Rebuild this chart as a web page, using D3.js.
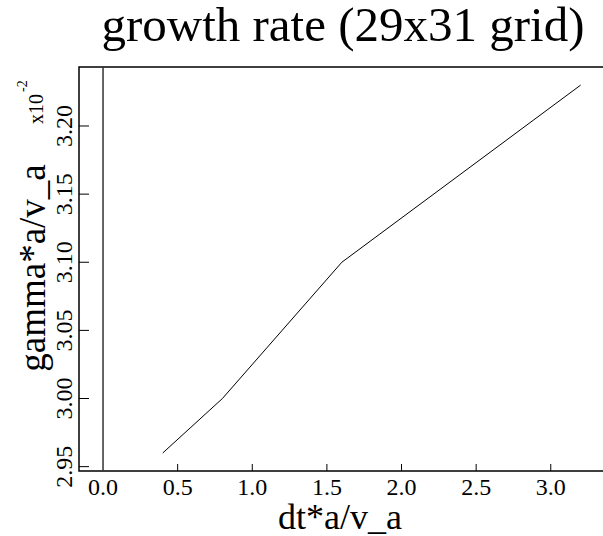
<!DOCTYPE html>
<html>
<head>
<meta charset="utf-8">
<script src="https://cdn.jsdelivr.net/npm/d3@7"></script>
<style>
  body { margin: 0; background: #fff; }
  text { font-family: "Liberation Serif", "DejaVu Serif", serif; fill: #000; }
</style>
</head>
<body>
<div id="chart"></div>
<script>
// data
const dt = [0.4, 0.8, 1.6, 3.2]
const gamma = [2.96, 3.00, 3.10, 3.23]   // in units of 1e-2
const xTicks = [0.0, 0.5, 1.0, 1.5, 2.0, 2.5, 3.0]
const yTicks = [2.95, 3.00, 3.05, 3.10, 3.15, 3.20]

const W = 603, H = 536
const plotL = 79, plotT = 67, plotR = 603, plotB = 471

const svg = d3.select('#chart').append('svg')
  .attr('width', W)
  .attr('height', H)

const x = d3.scaleLinear().domain([-0.161, 3.35]).range([plotL, plotR])
const y = d3.scaleLinear().domain([2.9468, 3.2433]).range([plotB, plotT])

// frame: left, top, bottom (no right side)
svg.append('path')
  .attr('d', `M ${plotR} ${plotT} L ${plotL} ${plotT} L ${plotL} ${plotB} L ${plotR} ${plotB}`)
  .style('fill', 'none')
  .style('stroke', '#000')
  .style('stroke-width', 1.5)

// zero line
svg.append('line')
  .attr('x1', x(0)).attr('x2', x(0))
  .attr('y1', plotT).attr('y2', plotB)
  .style('stroke', '#333')
  .style('stroke-width', 1.5)

// x ticks (pointing inward)
const xAxis = svg.append('g')
xAxis.selectAll('line').data(xTicks.filter(d => d !== 0)).join('line')
  .attr('x1', d => x(d)).attr('x2', d => x(d))
  .attr('y1', plotB).attr('y2', plotB - 7)
  .style('stroke', '#000')
  .style('stroke-width', 1)
xAxis.selectAll('text').data(xTicks).join('text')
  .attr('x', d => x(d))
  .attr('y', 495)
  .attr('text-anchor', 'middle')
  .style('font-size', '24px')
  .text(d => d3.format('.1f')(d))

// y ticks (pointing inward), labels rotated
const yAxis = svg.append('g')
yAxis.selectAll('line').data(yTicks).join('line')
  .attr('x1', plotL).attr('x2', plotL + 10)
  .attr('y1', d => y(d)).attr('y2', d => y(d))
  .style('stroke', '#000')
  .style('stroke-width', 1)
yAxis.selectAll('text').data(yTicks).join('text')
  .attr('transform', d => `translate(72, ${y(d)}) rotate(-90)`)
  .attr('text-anchor', 'middle')
  .style('font-size', '24px')
  .text(d => d3.format('.2f')(d))

// exponent marker
const expo = svg.append('text')
  .attr('transform', 'translate(43, 124) rotate(-90)')
  .attr('text-anchor', 'start')
  .style('font-size', '20px')
expo.append('tspan').text('x10')
expo.append('tspan')
  .attr('dx', 2)
  .attr('dy', -16)
  .style('font-size', '14px')
  .text('-2')

// series line
const line = d3.line()
  .x(d => x(d[0]))
  .y(d => y(d[1]))
svg.append('path')
  .datum(d3.zip(dt, gamma))
  .attr('d', line)
  .style('fill', 'none')
  .style('stroke', '#000')
  .style('stroke-width', 1)

// title and axis labels
svg.append('text')
  .attr('x', 343)
  .attr('y', 41)
  .attr('text-anchor', 'middle')
  .style('font-size', '49px')
  .text('growth rate (29x31 grid)')

svg.append('text')
  .attr('x', 340)
  .attr('y', 529)
  .attr('text-anchor', 'middle')
  .style('font-size', '36px')
  .text('dt*a/v_a')

svg.append('text')
  .attr('transform', 'translate(45, 268) rotate(-90)')
  .attr('text-anchor', 'middle')
  .style('font-size', '37px')
  .text('gamma*a/v_a')
</script>
</body>
</html>
